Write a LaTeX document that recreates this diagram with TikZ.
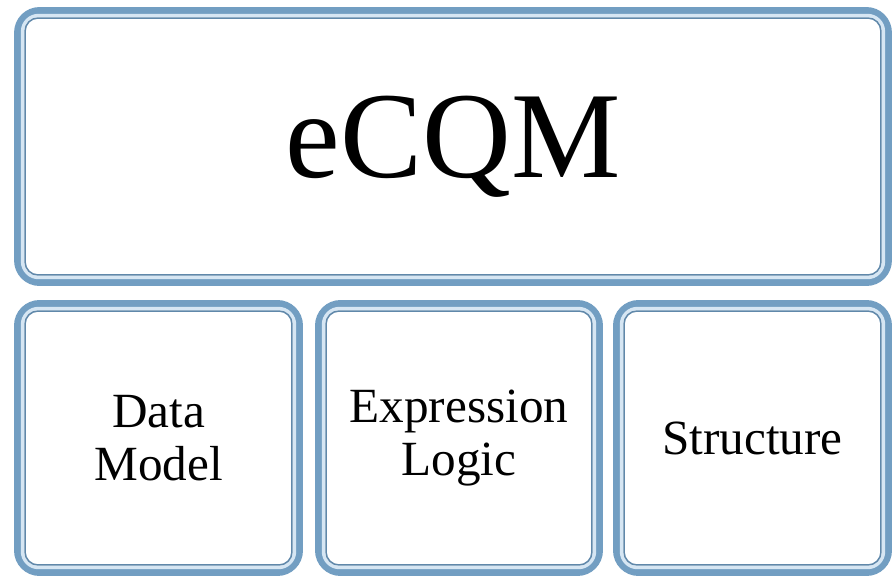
\documentclass[tikz,border=0pt]{standalone}
\usepackage{fontspec}
\setmainfont{Liberation Serif}
\usepackage{xcolor}
\usetikzlibrary{positioning}

\definecolor{bandblue}{RGB}{114,158,194}
\definecolor{paleblue}{RGB}{214,230,243}
\definecolor{rimblue}{RGB}{96,136,170}

\tikzset{
  panel/.style={draw=bandblue, line width=0.14cm, rounded corners=0.44cm,
    fill=white, align=center, inner sep=0pt},
  small/.style={font=\fontsize{28}{30.5}\selectfont},
  rim/.style={draw=rimblue, line width=0.03cm, rounded corners=0.26cm},
  gap/.style={draw=paleblue, line width=0.07cm, rounded corners=0.32cm}
}

\begin{document}
\begin{tikzpicture}[x=0.02cm, y=-0.02cm]
                        \useasboundingbox (0, 0) rectangle (894, 576);
                        \node[panel, minimum width=17.42cm, minimum height=5.44cm,
                            font=\fontsize{70}{80}\selectfont] (ecqm) at (453, 146.5) {eCQM};
                        \node[panel, small, minimum width=5.64cm, minimum height=5.38cm] (data) at (158.5, 438)
                            {Data\\Model};
                        \node[panel, small, minimum width=5.62cm, minimum height=5.38cm] (logic) at (459, 438)
                            {Expression\\Logic};
                        \node[panel, small, minimum width=5.44cm, minimum height=5.38cm] (struct) at (752.5, 438)
                            {Structure};
                        % inner rims
                        \foreach \p in {ecqm, data, logic, struct} {
                            \draw[gap] ([shift={(8.5, 8.5)}]\p.north west) rectangle ([shift={(-8.5, -8.5)}]\p.south east);
                            \draw[rim] ([shift={(11, 11)}]\p.north west) rectangle ([shift={(-11, -11)}]\p.south east);
                        }
                    \end{tikzpicture}
\end{document}
